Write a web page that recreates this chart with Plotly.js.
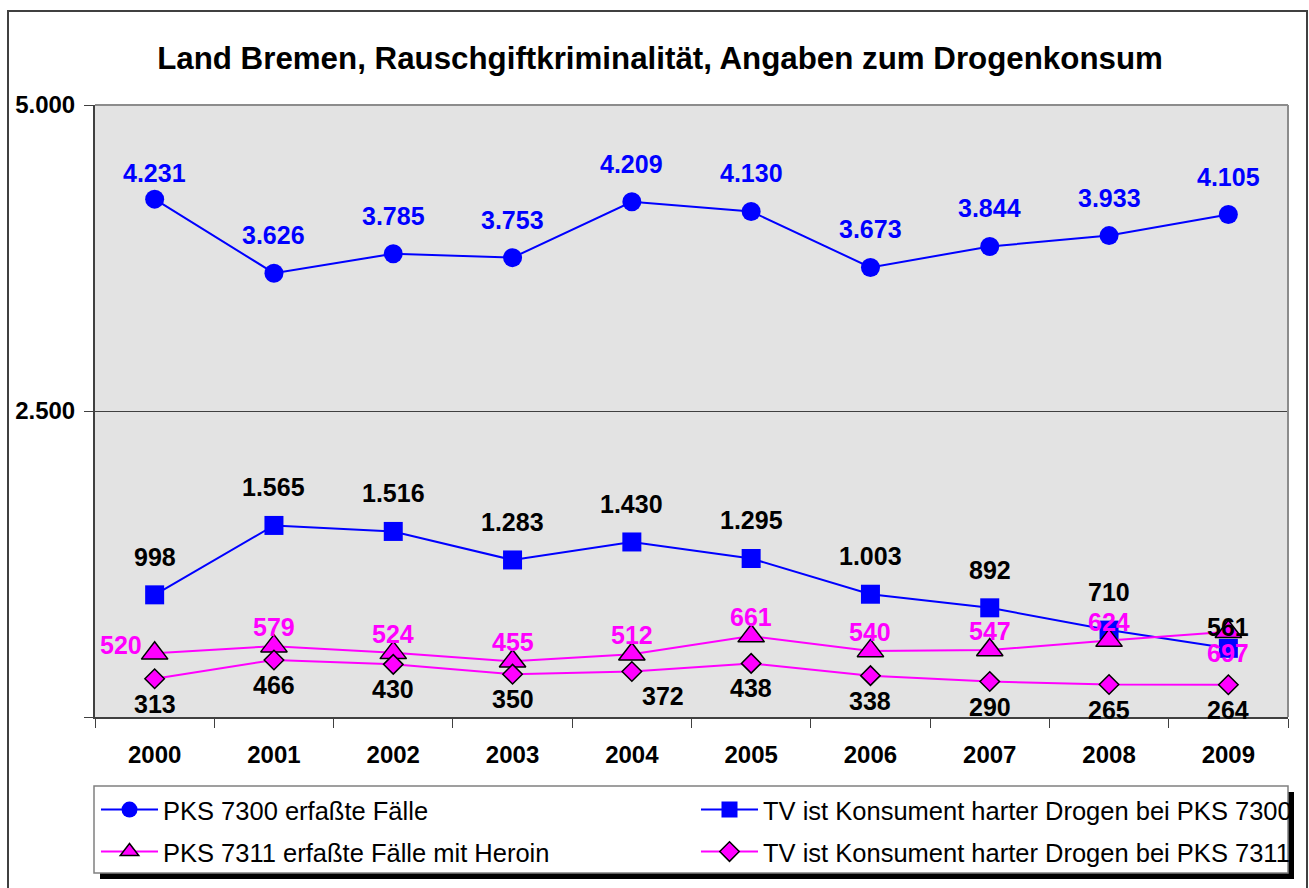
<!DOCTYPE html>
<html>
<head>
<meta charset="utf-8">
<script src="https://cdn.plot.ly/plotly-3.0.1.min.js"></script>
<style>html,body{margin:0;padding:0;background:#fff;}</style>
</head>
<body>
<div id="chart" style="width:1309px;height:888px;"></div>
<script>
// ---- data ----
const categories = ['2000','2001','2002','2003','2004','2005','2006','2007','2008','2009'];
const pks7300 = [4231, 3626, 3785, 3753, 4209, 4130, 3673, 3844, 3933, 4105];
const tv7300  = [998, 1565, 1516, 1283, 1430, 1295, 1003, 892, 710, 561];
const pks7311 = [520, 579, 524, 455, 512, 661, 540, 547, 624, 697];
const tv7311  = [313, 466, 430, 350, 372, 438, 338, 290, 265, 264];
const seriesNames = [
  'PKS 7300 erfaßte Fälle',
  'TV ist Konsument harter Drogen bei PKS 7300',
  'PKS 7311 erfaßte Fälle mit Heroin',
  'TV ist Konsument harter Drogen bei PKS 7311'
];
const yTickVals = [0, 2500, 5000];
const yTickText = ['', '2.500', '5.000'];
const titleText = 'Land Bremen, Rauschgiftkriminalität, Angaben zum Drogenkonsum';

// ---- layout helpers ----
const L = 95, R = 21, T = 105, B = 171, W = 1309, H = 888;
const PW = W - L - R, PH = H - T - B;
const px2x = p => (p - L) / PW;
const px2y = p => (H - B - p) / PH;
const fmt = v => String(v).replace(/\B(?=(\d{3})+(?!\d))/g, '.');
const FONT = 'Arial, "Liberation Sans", sans-serif';

// label offsets (style only): default [dx, dy], per-index overrides
const labelStyle = [
  {vals: pks7300, color: '#0000FF', d: [0, 38], o: {0: [0, 26]}},
  {vals: tv7300,  color: '#000000', d: [0, 38], o: {9: [0, 21]}},
  {vals: pks7311, color: '#FF00FF', d: [0, 19], o: {0: [-34, 8], 9: [0, -21]}},
  {vals: tv7311,  color: '#000000', d: [0, -25], o: {4: [31, -25]}}
];

const annotations = [];
labelStyle.forEach(s => {
  s.vals.forEach((v, i) => {
    const off = s.o[i] || s.d;
    annotations.push({
      x: i, y: v, xref: 'x', yref: 'y',
      text: '<b>' + fmt(v) + '</b>', showarrow: false,
      xanchor: 'center', yanchor: 'middle',
      xshift: off[0], yshift: off[1],
      font: {family: FONT, size: 25, color: s.color}
    });
  });
});

const traces = [
  {x: categories, y: pks7300, name: seriesNames[0], mode: 'lines+markers', legend: 'legend',
   line: {color: '#0000FF', width: 2},
   marker: {symbol: 'circle', size: 19, color: '#0000FF'}},
  {x: categories, y: tv7300, name: seriesNames[1], mode: 'lines+markers', legend: 'legend2',
   line: {color: '#0000FF', width: 2},
   marker: {symbol: 'square', size: 19, color: '#0000FF'}},
  {x: categories, y: pks7311, name: seriesNames[2], mode: 'lines+markers', legend: 'legend3',
   line: {color: '#FF00FF', width: 2},
   marker: {symbol: 'triangle-up', size: 23, color: '#FF00FF', line: {color: '#000000', width: 1.5}}},
  {x: categories, y: tv7311, name: seriesNames[3], mode: 'lines+markers', legend: 'legend4',
   line: {color: '#FF00FF', width: 2},
   marker: {symbol: 'diamond', size: 15, color: '#FF00FF', line: {color: '#000000', width: 1.5}}}
];

const legFont = {family: FONT, size: 25.5, color: '#000000'};
const legBase = {bgcolor: 'rgba(0,0,0,0)', borderwidth: 0, font: legFont, itemwidth: 57,
  xanchor: 'left', yanchor: 'middle', orientation: 'v', itemclick: false, itemdoubleclick: false};
const col1 = px2x(96), col2 = px2x(696), row1 = px2y(810), row2 = px2y(852);

const shapes = [
  // outer frame
  {type: 'rect', xref: 'paper', yref: 'paper', x0: px2x(8), x1: px2x(1307), y0: px2y(900), y1: px2y(11),
   line: {color: '#404040', width: 2}, layer: 'below'},
  // plot area top / right border
  {type: 'line', xref: 'paper', yref: 'paper', x0: 0, x1: 1, y0: 1, y1: 1, line: {color: '#8c8c8c', width: 2}},
  {type: 'line', xref: 'paper', yref: 'paper', x0: 1, x1: 1, y0: 0, y1: 1, line: {color: '#8c8c8c', width: 2}},
  // legend shadow and box
  {type: 'rect', xref: 'paper', yref: 'paper', x0: px2x(100), x1: px2x(1294), y0: px2y(879), y1: px2y(792),
   fillcolor: '#000000', line: {width: 0}},
  {type: 'rect', xref: 'paper', yref: 'paper', x0: px2x(94), x1: px2x(1288), y0: px2y(873), y1: px2y(786),
   fillcolor: '#ffffff', line: {color: '#808080', width: 1.5}}
];

const layout = {
  width: W, height: H,
  margin: {l: L, r: R, t: T, b: B, pad: 0},
  paper_bgcolor: '#ffffff', plot_bgcolor: '#e3e3e3',
  separators: ',.',
  title: {text: titleText, x: 660 / W, xanchor: 'center', xref: 'container',
          y: 1 - 58 / H, yanchor: 'middle', yref: 'container',
          font: {family: FONT, size: 31.3, weight: 700, color: '#000000'}},
  xaxis: {type: 'category', range: [-0.5, 9.5], tickson: 'boundaries', ticks: 'outside', ticklen: 9,
          tickcolor: '#404040', tickwidth: 1, showgrid: false, zeroline: false,
          showline: true, linecolor: '#404040', linewidth: 1.5, ticklabelstandoff: 16,
          tickfont: {family: FONT, size: 24, weight: 700, color: '#000000'}, fixedrange: true},
  yaxis: {range: [0, 5000], tickvals: yTickVals, ticktext: yTickText, ticks: 'outside', ticklen: 9,
          tickcolor: '#404040', tickwidth: 1, showgrid: true, gridcolor: '#404040', gridwidth: 1,
          zeroline: false, showline: true, linecolor: '#404040', linewidth: 2, ticklabelstandoff: 4,
          tickfont: {family: FONT, size: 24, weight: 700, color: '#000000'}, fixedrange: true},
  legend:  Object.assign({}, legBase, {x: col1, y: row1}),
  legend2: Object.assign({}, legBase, {x: col2, y: row1}),
  legend3: Object.assign({}, legBase, {x: col1, y: row2}),
  legend4: Object.assign({}, legBase, {x: col2, y: row2}),
  showlegend: true,
  shapes: shapes,
  annotations: annotations
};

Plotly.newPlot('chart', traces, layout, {displayModeBar: false, staticPlot: true});
</script>
</body>
</html>
